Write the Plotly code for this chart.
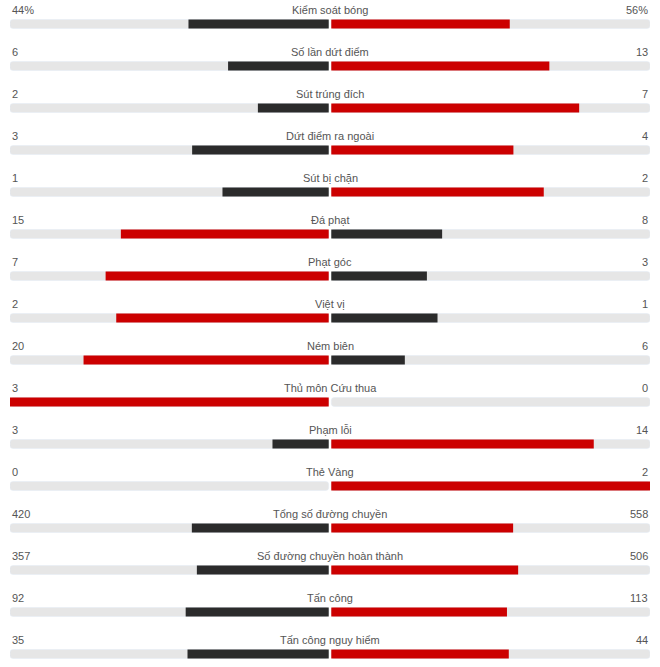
import plotly.graph_objects as go

labels = [
    "Kiểm soát bóng", "Số lần dứt điểm", "Sút trúng đích", "Dứt điểm ra ngoài",
    "Sút bị chặn", "Đá phạt", "Phạt góc", "Việt vị", "Ném biên",
    "Thủ môn Cứu thua", "Phạm lỗi", "Thẻ Vàng", "Tổng số đường chuyền",
    "Số đường chuyền hoàn thành", "Tấn công", "Tấn công nguy hiểm",
]
home = [44, 6, 2, 3, 1, 15, 7, 2, 20, 3, 3, 0, 420, 357, 92, 35]
away = [56, 13, 7, 4, 2, 8, 3, 1, 6, 0, 14, 2, 558, 506, 113, 44]
home_text = ["44%"] + [str(v) for v in home[1:]]
away_text = ["56%"] + [str(v) for v in away[1:]]

RED = "#cc0000"
DARK = "#2b2b2b"
TRACK = "#e6e6e6"
TXT = "#555555"
GAP = 0.004
PX_ROW = 42
W, H = 660, 667

rows = list(range(len(labels)))
home_frac = [h / (h + a) for h, a in zip(home, away)]
away_frac = [a / (h + a) for h, a in zip(home, away)]
home_col = [RED if h > a else DARK for h, a in zip(home, away)]
away_col = [RED if a > h else DARK for h, a in zip(home, away)]

fig = go.Figure()
bw = 9 / PX_ROW
# grey tracks
fig.add_trace(go.Bar(y=rows, x=[-(1 - GAP)] * len(rows), base=-GAP, orientation="h",
                     width=bw, marker=dict(color=TRACK, cornerradius=3), hoverinfo="skip"))
fig.add_trace(go.Bar(y=rows, x=[1 - GAP] * len(rows), base=GAP, orientation="h",
                     width=bw, marker=dict(color=TRACK, cornerradius=3), hoverinfo="skip"))
# team bars
fig.add_trace(go.Bar(y=rows, x=[-f * (1 - GAP) for f in home_frac], base=-GAP, orientation="h",
                     width=bw, marker=dict(color=home_col, line_width=0)))
fig.add_trace(go.Bar(y=rows, x=[f * (1 - GAP) for f in away_frac], base=GAP, orientation="h",
                     width=bw, marker=dict(color=away_col, line_width=0)))

off = 14.5 / PX_ROW
for i in rows:
    fig.add_annotation(x=0, y=i - off, text=labels[i], showarrow=False,
                       xanchor="center", yanchor="middle")
    fig.add_annotation(x=-1, y=i - off, text=home_text[i], showarrow=False,
                       xanchor="left", yanchor="middle")
    fig.add_annotation(x=1, y=i - off, text=away_text[i], showarrow=False,
                       xanchor="right", yanchor="middle")

top = -24 / PX_ROW
fig.update_layout(
    width=W, height=H,
    margin=dict(l=10, r=10, t=0, b=0),
    barmode="overlay",
    showlegend=False,
    plot_bgcolor="white", paper_bgcolor="white",
    font=dict(family="Liberation Sans", size=11, color=TXT),
    xaxis=dict(range=[-1, 1], visible=False, fixedrange=True),
    yaxis=dict(range=[top + H / PX_ROW, top], visible=False, fixedrange=True),
)

# drop the default body margin so the figure fills the window
fig.write_html("out.html", config={"displayModeBar": False},
               post_script="document.body.style.margin='0';")
